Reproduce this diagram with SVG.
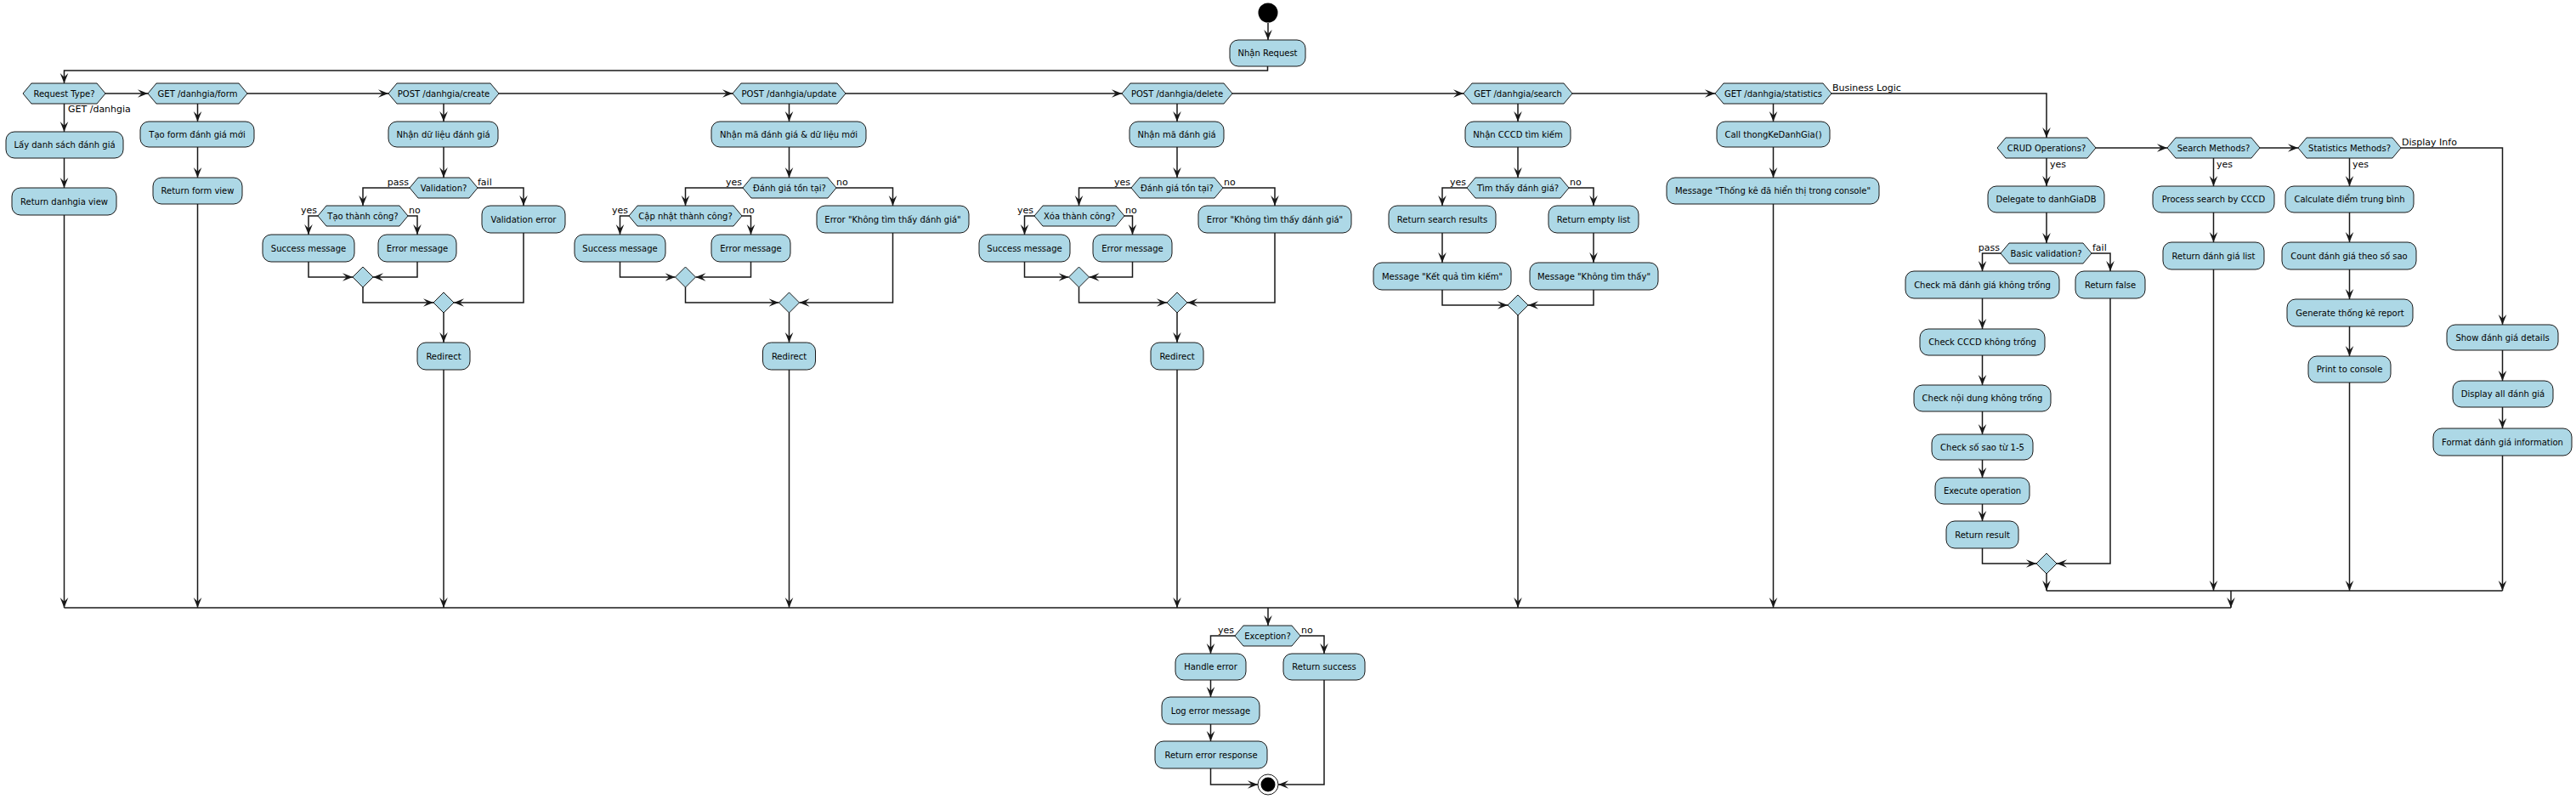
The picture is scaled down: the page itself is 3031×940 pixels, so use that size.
<svg xmlns="http://www.w3.org/2000/svg" width="3031" height="940" viewBox="0 0 3031 940">
<style>
.b{fill:#ADD8E6;stroke:#181818;stroke-width:1}
.t{font-family:"DejaVu Sans","Liberation Sans",sans-serif;font-size:10px;fill:#000;text-anchor:middle}
.l{font-family:"DejaVu Sans","Liberation Sans",sans-serif;font-size:11px;fill:#000}
.e{text-anchor:end}
.c{fill:none;stroke:#181818;stroke-width:1.5}
.a{marker-end:url(#ar)}
</style>
<defs>
<marker id="ar" markerUnits="userSpaceOnUse" markerWidth="12" markerHeight="12" viewBox="0 0 10 10" refX="10" refY="5" orient="auto">
<path d="M0,1 L10,5 L0,9 L4,5 Z" fill="#181818"/>
</marker>
</defs>
<rect width="3031" height="940" fill="#fff"/>

<g id="connectors">
<polyline class="c a" points="1492,27 1492,47"/>
<polyline class="c a" points="1491.5,78 1491.5,83 75.5,83 75.5,98"/>
<polyline class="c a" points="124,110 174,110"/>
<polyline class="c a" points="291,110 457,110"/>
<polyline class="c a" points="587,110 862,110"/>
<polyline class="c a" points="995,110 1320,110"/>
<polyline class="c a" points="1450,110 1722,110"/>
<polyline class="c a" points="1850,110 2018,110"/>
<polyline class="c a" points="2155,110 2408,110 2408,162"/>
<!-- col1 -->
<polyline class="c a" points="75.5,122 75.5,155"/>
<polyline class="c a" points="75.5,186 75.5,221"/>
<polyline class="c a" points="75.5,253 75.5,715"/>
<!-- col2 -->
<polyline class="c a" points="232.5,122 232.5,143"/>
<polyline class="c a" points="232.5,173 232.5,209"/>
<polyline class="c a" points="232.5,240 232.5,715"/>
<!-- col3 -->
<polyline class="c a" points="522,122 522,143"/>
<polyline class="c a" points="522,173 522,209"/>
<polyline class="c a" points="482,221 427,221 427,242"/>
<polyline class="c a" points="374,254 363,254 363,276"/>
<polyline class="c a" points="480,254 491,254 491,276"/>
<polyline class="c a" points="363,308 363,326 415,326"/>
<polyline class="c a" points="491,308 491,326 439,326"/>
<polyline class="c a" points="427,338 427,356 510,356"/>
<polyline class="c a" points="562,221 616,221 616,242"/>
<polyline class="c a" points="616,274 616,356 534,356"/>
<polyline class="c a" points="522,368 522,403"/>
<polyline class="c a" points="522,435 522,715"/>
<!-- col4 -->
<polyline class="c a" points="928.5,122 928.5,143"/>
<polyline class="c a" points="928.5,173 928.5,209"/>
<polyline class="c a" points="874,221 806.5,221 806.5,242"/>
<polyline class="c a" points="740,254 729.5,254 729.5,276"/>
<polyline class="c a" points="873,254 883.5,254 883.5,276"/>
<polyline class="c a" points="729.5,308 729.5,326 794.5,326"/>
<polyline class="c a" points="883.5,308 883.5,326 818.5,326"/>
<polyline class="c a" points="806.5,338 806.5,356 916.5,356"/>
<polyline class="c a" points="984,221 1050.5,221 1050.5,242"/>
<polyline class="c a" points="1050.5,274 1050.5,356 940.5,356"/>
<polyline class="c a" points="928.5,368 928.5,403"/>
<polyline class="c a" points="928.5,435 928.5,715"/>
<!-- col5 -->
<polyline class="c a" points="1385,122 1385,143"/>
<polyline class="c a" points="1385,173 1385,209"/>
<polyline class="c a" points="1331,221 1269.5,221 1269.5,242"/>
<polyline class="c a" points="1217,254 1205.5,254 1205.5,276"/>
<polyline class="c a" points="1323,254 1332.5,254 1332.5,276"/>
<polyline class="c a" points="1205.5,308 1205.5,326 1257.5,326"/>
<polyline class="c a" points="1332.5,308 1332.5,326 1281.5,326"/>
<polyline class="c a" points="1269.5,338 1269.5,356 1373,356"/>
<polyline class="c a" points="1439,221 1500,221 1500,242"/>
<polyline class="c a" points="1500,274 1500,356 1397,356"/>
<polyline class="c a" points="1385,368 1385,403"/>
<polyline class="c a" points="1385,435 1385,715"/>
<!-- col6 -->
<polyline class="c a" points="1786,122 1786,143"/>
<polyline class="c a" points="1786,173 1786,209"/>
<polyline class="c a" points="1726,221 1697,221 1697,242"/>
<polyline class="c a" points="1697,274 1697,309"/>
<polyline class="c a" points="1697,341 1697,359 1774,359"/>
<polyline class="c a" points="1846,221 1875,221 1875,242"/>
<polyline class="c a" points="1875,274 1875,309"/>
<polyline class="c a" points="1875,341 1875,359 1798,359"/>
<polyline class="c a" points="1786,371 1786,715"/>
<!-- col7 -->
<polyline class="c a" points="2086.5,122 2086.5,143"/>
<polyline class="c a" points="2086.5,173 2086.5,209"/>
<polyline class="c a" points="2086.5,240 2086.5,715"/>
<!-- business logic -->
<polyline class="c a" points="2408,186 2408,219"/>
<polyline class="c a" points="2408,250 2408,286"/>
<polyline class="c a" points="2354,298 2332.5,298 2332.5,319"/>
<polyline class="c a" points="2332.5,351 2332.5,387"/>
<polyline class="c a" points="2332.5,418 2332.5,453"/>
<polyline class="c a" points="2332.5,484 2332.5,511"/>
<polyline class="c a" points="2332.5,541 2332.5,562"/>
<polyline class="c a" points="2332.5,593 2332.5,613"/>
<polyline class="c a" points="2332.5,645 2332.5,663 2396,663"/>
<polyline class="c a" points="2461,298 2483,298 2483,319"/>
<polyline class="c a" points="2483,351 2483,663 2420,663"/>
<polyline class="c a" points="2408,675 2408,695"/>
<polyline class="c a" points="2466,174 2550,174"/>
<polyline class="c a" points="2659,174 2704,174"/>
<polyline class="c a" points="2825,174 2944.5,174 2944.5,382"/>
<polyline class="c a" points="2604.5,186 2604.5,219"/>
<polyline class="c a" points="2604.5,250 2604.5,285"/>
<polyline class="c a" points="2604.5,317 2604.5,695"/>
<polyline class="c a" points="2764.5,186 2764.5,219"/>
<polyline class="c a" points="2764.5,250 2764.5,285"/>
<polyline class="c a" points="2764.5,317 2764.5,352"/>
<polyline class="c a" points="2764.5,384 2764.5,419"/>
<polyline class="c a" points="2764.5,450 2764.5,695"/>
<polyline class="c a" points="2944.5,412 2944.5,448"/>
<polyline class="c a" points="2944.5,479 2944.5,504"/>
<polyline class="c a" points="2944.5,536 2944.5,695"/>
<polyline class="c" points="2408,695 2944.5,695"/>
<polyline class="c a" points="2625,695 2625,715"/>
<polyline class="c" points="75.5,715 2625,715"/>
<!-- exception -->
<polyline class="c a" points="1492,715 1492,736"/>
<polyline class="c a" points="1453,748 1424.5,748 1424.5,769"/>
<polyline class="c a" points="1530,748 1558,748 1558,769"/>
<polyline class="c a" points="1424.5,800 1424.5,820"/>
<polyline class="c a" points="1424.5,852 1424.5,872"/>
<polyline class="c a" points="1424.5,904 1424.5,923 1480,923"/>
<polyline class="c a" points="1558,800 1558,923 1504,923"/>
<!-- labels -->
<text class="l" x="80" y="131.5" font-size="10.5">GET /danhgia</text>
<text class="l e" x="481" y="218">pass</text>
<text class="l" x="562" y="218">fail</text>
<text class="l e" x="373" y="251">yes</text>
<text class="l" x="481" y="251">no</text>
<text class="l e" x="873" y="218">yes</text>
<text class="l" x="984" y="218">no</text>
<text class="l e" x="739" y="251">yes</text>
<text class="l" x="874" y="251">no</text>
<text class="l e" x="1330" y="218">yes</text>
<text class="l" x="1440" y="218">no</text>
<text class="l e" x="1216" y="251">yes</text>
<text class="l" x="1324" y="251">no</text>
<text class="l e" x="1725" y="218">yes</text>
<text class="l" x="1847" y="218">no</text>
<text class="l" x="2156" y="107">Business Logic</text>
<text class="l" x="2412" y="197">yes</text>
<text class="l e" x="2353" y="295">pass</text>
<text class="l" x="2462" y="295">fail</text>
<text class="l" x="2608" y="197">yes</text>
<text class="l" x="2768" y="197">yes</text>
<text class="l" x="2826" y="171">Display Info</text>
<text class="l e" x="1452" y="745">yes</text>
<text class="l" x="1531" y="745">no</text>
</g>

<g id="start"><circle cx="1492" cy="15" r="11.5" fill="#000"/></g>
<g id="end"><circle cx="1492" cy="923" r="12" fill="#fff" stroke="#181818" stroke-width="1"/><circle cx="1492" cy="923" r="8.5" fill="#000"/></g>

<g id="n_nhanreq"><rect class="b" x="1447" y="47" width="89" height="31" rx="10"/><text class="t" x="1491.5" y="66">Nhận Request</text></g>

<g id="h_reqtype"><path class="b" d="M27,110 L37,98 L114,98 L124,110 L114,122 L37,122 Z"/><text class="t" x="75.5" y="113.5">Request Type?</text></g>
<g id="h_form"><path class="b" d="M174,110 L184,98 L281,98 L291,110 L281,122 L184,122 Z"/><text class="t" x="232.5" y="113.5">GET /danhgia/form</text></g>
<g id="h_create"><path class="b" d="M457,110 L467,98 L577,98 L587,110 L577,122 L467,122 Z"/><text class="t" x="522" y="113.5">POST /danhgia/create</text></g>
<g id="h_update"><path class="b" d="M862,110 L872,98 L985,98 L995,110 L985,122 L872,122 Z"/><text class="t" x="928.5" y="113.5">POST /danhgia/update</text></g>
<g id="h_delete"><path class="b" d="M1320,110 L1330,98 L1440,98 L1450,110 L1440,122 L1330,122 Z"/><text class="t" x="1385" y="113.5">POST /danhgia/delete</text></g>
<g id="h_search"><path class="b" d="M1722,110 L1732,98 L1840,98 L1850,110 L1840,122 L1732,122 Z"/><text class="t" x="1786" y="113.5">GET /danhgia/search</text></g>
<g id="h_stats"><path class="b" d="M2018,110 L2028,98 L2145,98 L2155,110 L2145,122 L2028,122 Z"/><text class="t" x="2086.5" y="113.5">GET /danhgia/statistics</text></g>

<g id="n_lay"><rect class="b" x="7" y="155" width="138" height="31" rx="10"/><text class="t" x="76" y="174">Lấy danh sách đánh giá</text></g>
<g id="n_retview"><rect class="b" x="14" y="221" width="123" height="32" rx="10"/><text class="t" x="75.5" y="240.5">Return danhgia view</text></g>
<g id="n_taoform"><rect class="b" x="165" y="143" width="134" height="30" rx="10"/><text class="t" x="232" y="161.5">Tạo form đánh giá mới</text></g>
<g id="n_retform"><rect class="b" x="180" y="209" width="105" height="31" rx="10"/><text class="t" x="232.5" y="228">Return form view</text></g>

<g id="n_nhandl"><rect class="b" x="457" y="143" width="129" height="30" rx="10"/><text class="t" x="521.5" y="161.5">Nhận dữ liệu đánh giá</text></g>
<g id="h_valid"><path class="b" d="M482,221 L492,209 L552,209 L562,221 L552,233 L492,233 Z"/><text class="t" x="522" y="224.5">Validation?</text></g>
<g id="h_taotc"><path class="b" d="M374,254 L384,242 L470,242 L480,254 L470,266 L384,266 Z"/><text class="t" x="427" y="257.5">Tạo thành công?</text></g>
<g id="n_succ1"><rect class="b" x="309" y="276" width="108" height="32" rx="10"/><text class="t" x="363" y="295.5">Success message</text></g>
<g id="n_err1"><rect class="b" x="445" y="276" width="92" height="32" rx="10"/><text class="t" x="491" y="295.5">Error message</text></g>
<g id="d1i"><path class="b" d="M427,314 L439,326 L427,338 L415,326 Z"/></g>
<g id="n_valerr"><rect class="b" x="567" y="242" width="98" height="32" rx="10"/><text class="t" x="616" y="261.5">Validation error</text></g>
<g id="d1o"><path class="b" d="M522,344 L534,356 L522,368 L510,356 Z"/></g>
<g id="n_redir1"><rect class="b" x="491" y="403" width="62" height="32" rx="10"/><text class="t" x="522" y="422.5">Redirect</text></g>

<g id="n_nhanma2"><rect class="b" x="837" y="143" width="182" height="30" rx="10"/><text class="t" x="928" y="161.5">Nhận mã đánh giá &amp; dữ liệu mới</text></g>
<g id="h_exist2"><path class="b" d="M874,221 L884,209 L974,209 L984,221 L974,233 L884,233 Z"/><text class="t" x="929" y="224.5">Đánh giá tồn tại?</text></g>
<g id="h_captc"><path class="b" d="M740,254 L750,242 L863,242 L873,254 L863,266 L750,266 Z"/><text class="t" x="806.5" y="257.5">Cập nhật thành công?</text></g>
<g id="n_succ2"><rect class="b" x="676" y="276" width="107" height="32" rx="10"/><text class="t" x="729.5" y="295.5">Success message</text></g>
<g id="n_err2"><rect class="b" x="837" y="276" width="93" height="32" rx="10"/><text class="t" x="883.5" y="295.5">Error message</text></g>
<g id="d2i"><path class="b" d="M806.5,314 L818.5,326 L806.5,338 L794.5,326 Z"/></g>
<g id="n_nf2"><rect class="b" x="961" y="242" width="179" height="32" rx="10"/><text class="t" x="1050.5" y="261.5">Error "Không tìm thấy đánh giá"</text></g>
<g id="d2o"><path class="b" d="M928.5,344 L940.5,356 L928.5,368 L916.5,356 Z"/></g>
<g id="n_redir2"><rect class="b" x="897.5" y="403" width="62" height="32" rx="10"/><text class="t" x="928.5" y="422.5">Redirect</text></g>

<g id="n_nhanma3"><rect class="b" x="1329" y="143" width="111" height="30" rx="10"/><text class="t" x="1384.5" y="161.5">Nhận mã đánh giá</text></g>
<g id="h_exist3"><path class="b" d="M1331,221 L1341,209 L1429,209 L1439,221 L1429,233 L1341,233 Z"/><text class="t" x="1385" y="224.5">Đánh giá tồn tại?</text></g>
<g id="h_xoatc"><path class="b" d="M1217,254 L1227,242 L1313,242 L1323,254 L1313,266 L1227,266 Z"/><text class="t" x="1270" y="257.5">Xóa thành công?</text></g>
<g id="n_succ3"><rect class="b" x="1152" y="276" width="107" height="32" rx="10"/><text class="t" x="1205.5" y="295.5">Success message</text></g>
<g id="n_err3"><rect class="b" x="1286" y="276" width="93" height="32" rx="10"/><text class="t" x="1332.5" y="295.5">Error message</text></g>
<g id="d3i"><path class="b" d="M1269.5,314 L1281.5,326 L1269.5,338 L1257.5,326 Z"/></g>
<g id="n_nf3"><rect class="b" x="1410" y="242" width="180" height="32" rx="10"/><text class="t" x="1500" y="261.5">Error "Không tìm thấy đánh giá"</text></g>
<g id="d3o"><path class="b" d="M1385,344 L1397,356 L1385,368 L1373,356 Z"/></g>
<g id="n_redir3"><rect class="b" x="1354" y="403" width="62" height="32" rx="10"/><text class="t" x="1385" y="422.5">Redirect</text></g>

<g id="n_nhancccd"><rect class="b" x="1724" y="143" width="124" height="30" rx="10"/><text class="t" x="1786" y="161.5">Nhận CCCD tìm kiếm</text></g>
<g id="h_found"><path class="b" d="M1726,221 L1736,209 L1836,209 L1846,221 L1836,233 L1736,233 Z"/><text class="t" x="1786" y="224.5">Tìm thấy đánh giá?</text></g>
<g id="n_retsr"><rect class="b" x="1634" y="242" width="126" height="32" rx="10"/><text class="t" x="1697" y="261.5">Return search results</text></g>
<g id="n_msgkq"><rect class="b" x="1616" y="309" width="162" height="32" rx="10"/><text class="t" x="1697" y="328.5">Message "Kết quả tìm kiếm"</text></g>
<g id="n_retempty"><rect class="b" x="1822" y="242" width="106" height="32" rx="10"/><text class="t" x="1875" y="261.5">Return empty list</text></g>
<g id="n_msgkt"><rect class="b" x="1800" y="309" width="151" height="32" rx="10"/><text class="t" x="1875.5" y="328.5">Message "Không tìm thấy"</text></g>
<g id="d4"><path class="b" d="M1786,347 L1798,359 L1786,371 L1774,359 Z"/></g>

<g id="n_callthongke"><rect class="b" x="2020" y="143" width="133" height="30" rx="10"/><text class="t" x="2086.5" y="161.5">Call thongKeDanhGia()</text></g>
<g id="n_msgtk"><rect class="b" x="1961" y="209" width="250" height="31" rx="10"/><text class="t" x="2086" y="228">Message "Thống kê đã hiển thị trong console"</text></g>

<g id="h_crud"><path class="b" d="M2350,174 L2360,162 L2456,162 L2466,174 L2456,186 L2360,186 Z"/><text class="t" x="2408" y="177.5">CRUD Operations?</text></g>
<g id="n_delegate"><rect class="b" x="2339" y="219" width="137" height="31" rx="10"/><text class="t" x="2407.5" y="238">Delegate to danhGiaDB</text></g>
<g id="h_basic"><path class="b" d="M2354,298 L2364,286 L2451,286 L2461,298 L2451,310 L2364,310 Z"/><text class="t" x="2407.5" y="301.5">Basic validation?</text></g>
<g id="n_checkma"><rect class="b" x="2242" y="319" width="181" height="32" rx="10"/><text class="t" x="2332.5" y="338.5">Check mã đánh giá không trống</text></g>
<g id="n_checkcccd"><rect class="b" x="2259" y="387" width="147" height="31" rx="10"/><text class="t" x="2332.5" y="406">Check CCCD không trống</text></g>
<g id="n_checknd"><rect class="b" x="2252" y="453" width="161" height="31" rx="10"/><text class="t" x="2332.5" y="472">Check nội dung không trống</text></g>
<g id="n_checksao"><rect class="b" x="2273" y="511" width="119" height="30" rx="10"/><text class="t" x="2332.5" y="529.5">Check số sao từ 1-5</text></g>
<g id="n_exec"><rect class="b" x="2277" y="562" width="111" height="31" rx="10"/><text class="t" x="2332.5" y="581">Execute operation</text></g>
<g id="n_retres"><rect class="b" x="2290" y="613" width="85" height="32" rx="10"/><text class="t" x="2332.5" y="632.5">Return result</text></g>
<g id="n_retfalse"><rect class="b" x="2442" y="319" width="82" height="32" rx="10"/><text class="t" x="2483" y="338.5">Return false</text></g>
<g id="d5"><path class="b" d="M2408,651 L2420,663 L2408,675 L2396,663 Z"/></g>

<g id="h_searchm"><path class="b" d="M2550,174 L2560,162 L2649,162 L2659,174 L2649,186 L2560,186 Z"/><text class="t" x="2604.5" y="177.5">Search Methods?</text></g>
<g id="n_procsearch"><rect class="b" x="2533" y="219" width="143" height="31" rx="10"/><text class="t" x="2604.5" y="238">Process search by CCCD</text></g>
<g id="n_retlist"><rect class="b" x="2545" y="285" width="119" height="32" rx="10"/><text class="t" x="2604.5" y="304.5">Return đánh giá list</text></g>

<g id="h_statsm"><path class="b" d="M2704,174 L2714,162 L2815,162 L2825,174 L2815,186 L2714,186 Z"/><text class="t" x="2764.5" y="177.5">Statistics Methods?</text></g>
<g id="n_calc"><rect class="b" x="2689" y="219" width="151" height="31" rx="10"/><text class="t" x="2764.5" y="238">Calculate điểm trung bình</text></g>
<g id="n_count"><rect class="b" x="2685" y="285" width="158" height="32" rx="10"/><text class="t" x="2764" y="304.5">Count đánh giá theo số sao</text></g>
<g id="n_gen"><rect class="b" x="2691" y="352" width="148" height="32" rx="10"/><text class="t" x="2765" y="371.5">Generate thống kê report</text></g>
<g id="n_print"><rect class="b" x="2716" y="419" width="97" height="31" rx="10"/><text class="t" x="2764.5" y="438">Print to console</text></g>

<g id="n_show"><rect class="b" x="2879" y="382" width="131" height="30" rx="10"/><text class="t" x="2944.5" y="400.5">Show đánh giá details</text></g>
<g id="n_display"><rect class="b" x="2886" y="448" width="118" height="31" rx="10"/><text class="t" x="2945" y="467">Display all đánh giá</text></g>
<g id="n_format"><rect class="b" x="2863" y="504" width="163" height="32" rx="10"/><text class="t" x="2944.5" y="523.5">Format đánh giá information</text></g>

<g id="h_exc"><path class="b" d="M1453,748 L1463,736 L1520,736 L1530,748 L1520,760 L1463,760 Z"/><text class="t" x="1491.5" y="751.5">Exception?</text></g>
<g id="n_handle"><rect class="b" x="1383" y="769" width="83" height="31" rx="10"/><text class="t" x="1424.5" y="788">Handle error</text></g>
<g id="n_log"><rect class="b" x="1367" y="820" width="115" height="32" rx="10"/><text class="t" x="1424.5" y="839.5">Log error message</text></g>
<g id="n_reterr"><rect class="b" x="1359" y="872" width="132" height="32" rx="10"/><text class="t" x="1425" y="891.5">Return error response</text></g>
<g id="n_retsucc"><rect class="b" x="1510" y="769" width="96" height="31" rx="10"/><text class="t" x="1558" y="788">Return success</text></g>
</svg>
